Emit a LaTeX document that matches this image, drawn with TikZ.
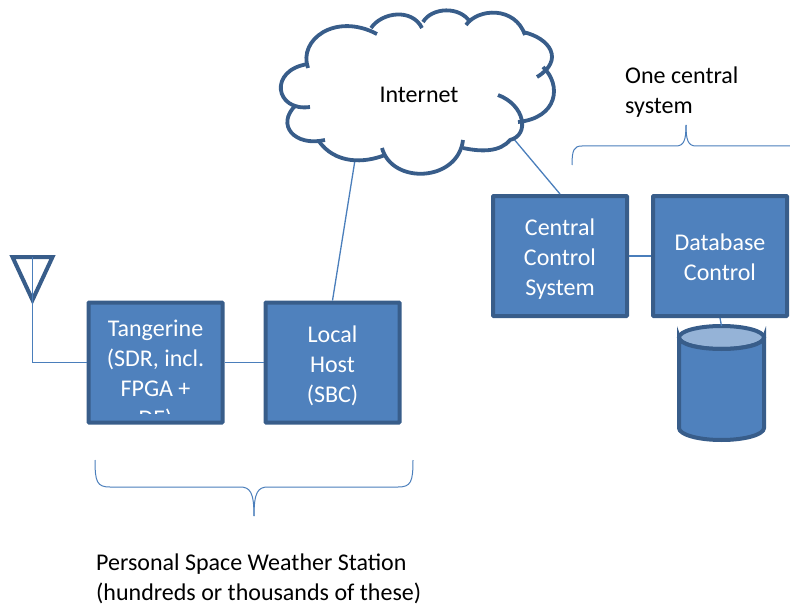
\documentclass[tikz,border=0pt]{standalone}
\usepackage{fontspec}
\setmainfont{Carlito}
\usepackage[HTML]{xcolor}
\usetikzlibrary{positioning, shapes.geometric}
\definecolor{boxfill}{HTML}{4F81BD}
\definecolor{boxedge}{HTML}{385D8A}
\definecolor{capfill}{HTML}{95B3D7}
\definecolor{wire}{HTML}{4A7EBB}
\tikzset{
  blockbox/.style={draw=boxedge,fill=boxfill,line width=4pt,minimum width=134pt,minimum height=120pt,inner sep=0pt,rounded corners=0.8pt},
  blocktext/.style={text=white,align=center,inner sep=0pt,font=\fontsize{24}{30}\selectfont},
  plaintext/.style={text=black,align=left,inner sep=0pt,font=\fontsize{24}{30}\selectfont},
  wireline/.style={draw=wire,line width=1.3pt},
  puff/.style={draw=boxedge,line width=3.8pt},
}
\begin{document}
\begin{tikzpicture}[x=1pt,y=-1pt]
\useasboundingbox (0,0) rectangle (790,607);
% connectors from the cloud
\coordinate (NetS) at (355,160);
\coordinate (NetE) at (513,138);
% boxes
\node[blockbox] (TG) at (155.5,362.5) {};
\node[blockbox] (LH) at (332.5,362.5) {};
\node[blockbox] (CC) at (560,256) {};
\node[blockbox] (DB) at (720,256) {};
\node[blocktext] (LHtext) at (332.5,366) {Local\\Host\\(SBC)};
\node[blocktext] (CCtext) at (560,259) {Central\\Control\\System};
\node[blocktext] (DBtext) at (720,257) {Database\\Control};
\begin{scope}
\clip (89,303) rectangle (222,413);
\node[blocktext] (TGtext) at (155.5,375) {Tangerine\\(SDR, incl.\\FPGA +\\DE)};
\end{scope}
% disk
\node[ellipse,draw=boxedge,fill=capfill,line width=4pt,minimum width=85pt,minimum height=23pt,inner sep=0pt,outer sep=0pt] (DS) at (721.5,337.5) {};
\draw[wireline] (DB.south) -- (DS.north);
\draw[draw=boxedge,fill=boxfill,line width=4pt] (DS.west) -- (679,428) .. controls (679,434.6) and (698,440) .. (721.5,440) .. controls (745,440) and (764,434.6) .. (764,428) -- (DS.east) .. controls (764,344) and (745,349) .. (721.5,349) .. controls (698,349) and (679,344) .. (DS.west) -- cycle;
% antenna
\coordinate (AntL) at (12.5,257);
\coordinate (AntR) at (52.5,257);
\coordinate (AntT) at (32.5,300);
\coordinate (AntM) at (32.5,257);
\draw[draw=boxedge,line width=4pt,line join=miter] (AntL) -- (AntR) -- (AntT) -- cycle;
\draw[wireline] (AntM) -- (AntT);
\draw[wireline] (AntT) |- (TG.west);
% links
\draw[wireline] (TG.east) -- (LH.west);
\draw[wireline] (CC.east) -- (DB.west);
\draw[wireline] (LH.north) -- (NetS);
\draw[wireline] (CC.north) -- (NetE);
% cloud
\draw[puff] (308,68) .. controls (298,40) and (335,12) .. (377,34);
\draw[puff] (371,28) .. controls (382,12) and (412,8) .. (422,28);
\draw[puff] (423,22) .. controls (432,7) and (460,6) .. (470,22);
\draw[puff] (466,25) .. controls (478,8) and (515,6) .. (525,35);
\draw[puff] (523,32) .. controls (550,38) and (565,60) .. (537,77);
\draw[puff] (543,67) .. controls (562,85) and (558,118) .. (518,122);
\draw[puff] (498,95) .. controls (525,105) and (530,135) .. (510,140) .. controls (500,152) and (482,152) .. (463,148);
\draw[puff] (463,140) .. controls (458,182) and (392,185) .. (382,148);
\draw[puff] (385,155) .. controls (365,163) and (335,165) .. (318,140);
\draw[puff] (325,140) .. controls (295,147) and (275,125) .. (296,105);
\draw[puff] (310,107) .. controls (275,112) and (268,70) .. (308,64);
\node[plaintext] (Net) at (419,94.5) {Internet};
% braces
\coordinate (BrL) at (95,460);
\coordinate (BrM) at (254,516);
\coordinate (BrR) at (413,460);
\draw[wireline,line width=1pt] (BrL) .. controls (95,482) and (97,487) .. (110,487) -- (240,487) .. controls (250,487) and (254,492) .. (BrM);
\draw[wireline,line width=1pt] (BrM) .. controls (254,492) and (258,487) .. (268,487) -- (398,487) .. controls (411,487) and (413,482) .. (BrR);
\coordinate (TopL) at (572,165);
\coordinate (TopM) at (686,125);
\coordinate (TopR) at (790,146);
\draw[wireline,line width=1pt] (TopL) .. controls (572,150) and (574,146) .. (582,146) -- (676,146) .. controls (684,146) and (686,140) .. (TopM);
\draw[wireline,line width=1pt] (TopM) .. controls (686,140) and (688,146) .. (696,146) -- (TopR);
% captions
\node[plaintext,anchor=west] (OneCap) at (625,92) {One central\\system};
\node[plaintext,anchor=west] (PswsCap) at (96,579) {Personal Space Weather Station\\(hundreds or thousands of these)};
\end{tikzpicture}
\end{document}
